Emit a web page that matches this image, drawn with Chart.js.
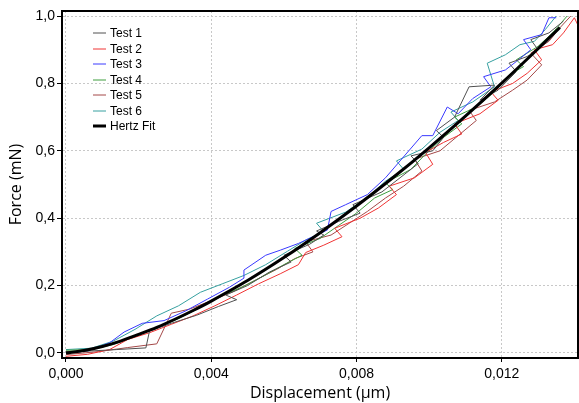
<!DOCTYPE html>
<html>
<head>
<meta charset="utf-8">
<script src="https://cdn.jsdelivr.net/npm/chart.js@4/dist/chart.umd.min.js"></script>
<style>
  html, body { margin: 0; padding: 0; background: #fff; }
  #wrap { width: 579px; height: 403px; }
</style>
</head>
<body>
<div id="wrap"><canvas id="chart"></canvas></div>
<script>
// values (displacement in µm, force in mN)
const xTicks = [0, 0.004, 0.008, 0.012];
const yTicks = [0, 0.2, 0.4, 0.6, 0.8, 1.0];

const test1X = [0, 0.0007, 0.0014, 0.0022, 0.0023, 0.0029, 0.0036, 0.0042, 0.0047, 0.0044, 0.0050, 0.0056, 0.0062, 0.0060, 0.0067, 0.0071, 0.0069, 0.0075, 0.0081, 0.0079, 0.0087, 0.0092, 0.0097, 0.0095, 0.0101, 0.0104, 0.0102, 0.0107, 0.0111, 0.0118, 0.0114, 0.0119, 0.0124, 0.0122, 0.0127, 0.0130, 0.0128, 0.0133, 0.0137];
const test1Y = [0.004, 0.006, 0.010, 0.015, 0.065, 0.088, 0.112, 0.138, 0.158, 0.172, 0.200, 0.240, 0.270, 0.290, 0.322, 0.350, 0.362, 0.390, 0.415, 0.440, 0.478, 0.520, 0.562, 0.585, 0.600, 0.640, 0.660, 0.700, 0.790, 0.795, 0.750, 0.780, 0.835, 0.860, 0.880, 0.900, 0.930, 0.950, 0.985];

const test2X = [0, 0.0006, 0.0012, 0.0017, 0.0023, 0.0029, 0.0035, 0.0041, 0.0047, 0.0053, 0.0059, 0.0064, 0.0066, 0.0071, 0.0076, 0.0074, 0.0081, 0.0086, 0.0091, 0.0089, 0.0096, 0.0101, 0.0099, 0.0104, 0.0109, 0.0107, 0.0114, 0.0119, 0.0117, 0.0123, 0.0127, 0.0131, 0.0129, 0.0134, 0.0137, 0.0140, 0.0142];
const test2Y = [-0.010, -0.004, 0.010, 0.040, 0.060, 0.085, 0.110, 0.140, 0.172, 0.205, 0.235, 0.262, 0.298, 0.320, 0.345, 0.370, 0.400, 0.430, 0.470, 0.495, 0.520, 0.560, 0.595, 0.625, 0.650, 0.680, 0.710, 0.750, 0.775, 0.800, 0.830, 0.870, 0.900, 0.915, 0.950, 0.995, 0.950];

const test3X = [0, 0.0006, 0.0012, 0.0016, 0.0021, 0.0027, 0.0033, 0.0039, 0.0045, 0.0049, 0.0049, 0.0055, 0.0059, 0.0064, 0.0069, 0.0072, 0.0073, 0.0077, 0.0083, 0.0088, 0.0092, 0.0098, 0.0101, 0.0105, 0.0108, 0.0112, 0.0117, 0.0115, 0.0121, 0.0124, 0.0128, 0.0126, 0.0131, 0.0133, 0.0135];
const test3Y = [0.000, 0.006, 0.030, 0.062, 0.088, 0.096, 0.125, 0.160, 0.195, 0.222, 0.246, 0.290, 0.305, 0.325, 0.350, 0.365, 0.420, 0.440, 0.470, 0.520, 0.570, 0.645, 0.645, 0.730, 0.710, 0.755, 0.790, 0.820, 0.840, 0.865, 0.900, 0.930, 0.945, 0.995, 0.995];

const test4X = [0, 0.0007, 0.0013, 0.0019, 0.0025, 0.0031, 0.0037, 0.0043, 0.0049, 0.0055, 0.0060, 0.0065, 0.0063, 0.0070, 0.0075, 0.0080, 0.0085, 0.0090, 0.0088, 0.0095, 0.0099, 0.0104, 0.0109, 0.0107, 0.0113, 0.0118, 0.0122, 0.0126, 0.0124, 0.0130, 0.0134, 0.0138];
const test4Y = [0.008, 0.010, 0.025, 0.048, 0.075, 0.102, 0.135, 0.170, 0.198, 0.232, 0.262, 0.290, 0.310, 0.340, 0.378, 0.415, 0.460, 0.485, 0.505, 0.545, 0.590, 0.640, 0.680, 0.700, 0.730, 0.775, 0.825, 0.850, 0.870, 0.910, 0.950, 1.000];

const test5X = [0, 0.0009, 0.0017, 0.0025, 0.0029, 0.0034, 0.0040, 0.0046, 0.0052, 0.0058, 0.0063, 0.0068, 0.0066, 0.0073, 0.0078, 0.0083, 0.0088, 0.0093, 0.0098, 0.0096, 0.0103, 0.0108, 0.0113, 0.0111, 0.0118, 0.0123, 0.0127, 0.0131, 0.0128, 0.0133, 0.0136, 0.0139];
const test5Y = [-0.005, 0.004, 0.016, 0.027, 0.118, 0.130, 0.155, 0.182, 0.215, 0.248, 0.280, 0.300, 0.330, 0.350, 0.385, 0.420, 0.460, 0.495, 0.540, 0.575, 0.600, 0.645, 0.690, 0.720, 0.745, 0.780, 0.810, 0.855, 0.890, 0.925, 0.965, 1.000];

const test6X = [0, 0.0007, 0.0013, 0.0019, 0.0025, 0.0031, 0.0037, 0.0043, 0.0049, 0.0055, 0.0061, 0.0066, 0.0071, 0.0069, 0.0077, 0.0083, 0.0088, 0.0093, 0.0091, 0.0098, 0.0103, 0.0108, 0.0106, 0.0112, 0.0118, 0.0116, 0.0121, 0.0125, 0.0129, 0.0132, 0.0135];
const test6Y = [0.010, 0.014, 0.035, 0.070, 0.110, 0.140, 0.180, 0.205, 0.230, 0.262, 0.302, 0.335, 0.360, 0.385, 0.418, 0.462, 0.510, 0.545, 0.570, 0.605, 0.655, 0.690, 0.715, 0.745, 0.790, 0.860, 0.885, 0.915, 0.925, 0.960, 1.000];

const hertzX = [0, 0.0005, 0.001, 0.0015, 0.002, 0.0025, 0.003, 0.0035, 0.004, 0.005, 0.006, 0.007, 0.008, 0.009, 0.010, 0.011, 0.012, 0.013, 0.0136];
const hertzY = [0, 0.007, 0.019, 0.035, 0.055, 0.076, 0.100, 0.126, 0.154, 0.215, 0.283, 0.357, 0.436, 0.520, 0.609, 0.703, 0.801, 0.903, 0.966];

function toPoints(xs, ys) {
    return xs.map((x, i) => ({ x: x, y: ys[i] }));
}

function comma(v, digits) {
    return v.toFixed(digits).replace('.', ',');
}

// legend drawn inside the plot, top left
const insideLegend = {
    id: 'insideLegend',
    afterDraw(chart) {
        const ctx = chart.ctx;
        const area = chart.chartArea;
        ctx.save();
        ctx.font = '12px "Liberation Sans", Arial, sans-serif';
        ctx.textBaseline = 'middle';
        chart.data.datasets.forEach((ds, i) => {
            const y = Math.round(area.top + 22 + i * 15.5);
            ctx.strokeStyle = ds.borderColor;
            ctx.lineWidth = ds.borderWidth;
            ctx.beginPath();
            ctx.moveTo(area.left + 31, y);
            ctx.lineTo(area.left + 44, y);
            ctx.stroke();
            ctx.fillStyle = '#000';
            ctx.fillText(ds.label, area.left + 48, y + 1);
        });
        ctx.restore();
    }
};

// black frame on top and right
const frame = {
    id: 'frame',
    afterDraw(chart) {
        const ctx = chart.ctx;
        const a = chart.chartArea;
        ctx.save();
        ctx.strokeStyle = '#000';
        ctx.lineWidth = 2;
        ctx.beginPath();
        ctx.moveTo(a.left - 1, a.top);
        ctx.lineTo(a.right, a.top);
        ctx.lineTo(a.right, a.bottom);
        ctx.stroke();
        ctx.restore();
    }
};

function line(label, xs, ys, color, width) {
    return {
        label: label,
        data: toPoints(xs, ys),
        borderColor: color,
        backgroundColor: color,
        borderWidth: width,
        showLine: true,
        pointRadius: 0,
        fill: false
    };
}

const hertz = line('Hertz Fit', hertzX, hertzY, '#000000', 3);
hertz.tension = 0.3;
hertz.order = -1;

const tickFont = { family: '"Liberation Sans", Arial, sans-serif', size: 14 };
const titleFont = { family: '"Open Sans", "DejaVu Sans", sans-serif', size: 16 };

new Chart(document.getElementById('chart'), {
    type: 'scatter',
    data: {
        datasets: [
            line('Test 1', test1X, test1Y, '#505050', 1),
            line('Test 2', test2X, test2Y, '#f03434', 1),
            line('Test 3', test3X, test3Y, '#3a3aff', 1),
            line('Test 4', test4X, test4Y, '#3e9e3e', 1),
            line('Test 5', test5X, test5Y, '#a44848', 1),
            line('Test 6', test6X, test6Y, '#36a0a0', 1),
            hertz
        ]
    },
    options: {
        responsive: true,
        maintainAspectRatio: false,
        animation: false,
        layout: { padding: { top: 11, right: 1, left: 0, bottom: 0 } },
        plugins: {
            legend: { display: false },
            tooltip: { enabled: false }
        },
        scales: {
            x: {
                type: 'linear',
                min: -0.00011,
                max: 0.0141,
                afterBuildTicks: scale => { scale.ticks = xTicks.map(v => ({ value: v })); },
                afterFit: scale => { scale.height = 45; },
                ticks: {
                    color: '#000',
                    font: tickFont,
                    padding: 4,
                    maxRotation: 0,
                    callback: v => comma(v, 3)
                },
                grid: {
                    color: '#c8c8c8',
                    tickLength: 4,
                    tickColor: '#000',
                    tickBorderDash: []
                },
                border: { color: '#000', width: 2, dash: [2, 2] },
                title: {
                    display: true,
                    text: 'Displacement (µm)',
                    color: '#000',
                    font: titleFont,
                    padding: { top: 1, bottom: 0 }
                }
            },
            y: {
                type: 'linear',
                min: -0.015,
                max: 1.015,
                afterBuildTicks: scale => { scale.ticks = yTicks.map(v => ({ value: v })); },
                afterFit: scale => { scale.width = 62; },
                ticks: {
                    color: '#000',
                    font: tickFont,
                    padding: 2,
                    callback: v => comma(v, 1)
                },
                grid: {
                    color: '#c8c8c8',
                    tickLength: 5,
                    tickColor: '#000',
                    tickBorderDash: []
                },
                border: { color: '#000', width: 2, dash: [2, 2] },
                title: {
                    display: true,
                    text: 'Force (mN)',
                    color: '#000',
                    font: titleFont,
                    padding: { top: 7, bottom: 0 }
                }
            }
        }
    },
    plugins: [insideLegend, frame]
});
</script>
</body>
</html>
